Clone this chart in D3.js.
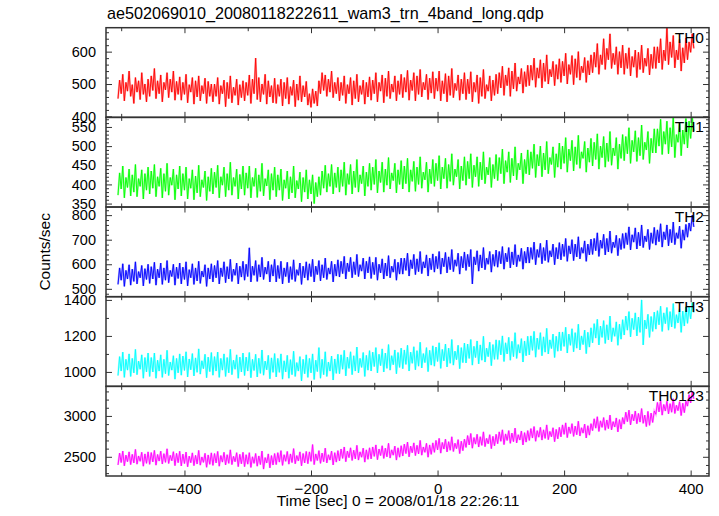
<!DOCTYPE html>
<html><head><meta charset="utf-8">
<script src="https://cdn.jsdelivr.net/npm/d3@7"></script>
<style>
body{margin:0;background:#fff}
svg{display:block}
text{font-family:"Liberation Sans",Arial,Helvetica,sans-serif;fill:#000}
</style></head>
<body><svg id="chart" width="719" height="516"></svg>
<script>
// ---------- data ----------
const chartTitle = "ae502069010_20080118222611_wam3_trn_4band_long.qdp";
const xLabel = "Time [sec] 0 = 2008/01/18 22:26:11";
const yLabel = "Counts/sec";
const panelNames = ["TH0", "TH1", "TH2", "TH3", "TH0123"];
const binStart = -505;   // time of first bin (s)
const binStep = 2.5;     // bin width (s)
const xMajorTicks = [-400, -200, 0, 200, 400];
const xMinorTicks = [-500, -300, -100, 100, 300];
const xDomain = [-524, 429];

const th0 = [
455,512,470,530,448,505,478,540,462,498,440,520,475,510,452,535,468,500,445,515,
462,525,480,548,455,510,470,528,445,505,482,535,458,515,475,540,450,508,468,522,
450,505,468,530,442,498,475,520,438,510,460,525,448,495,470,518,440,508,462,500,
445,500,462,520,438,495,470,512,430,505,455,525,442,490,465,515,435,498,458,510,
448,505,465,528,440,515,470,580,452,520,445,500,468,530,438,510,460,495,442,518,
440,498,462,515,432,505,455,520,438,492,465,512,430,500,450,525,445,495,460,508,
435,470,428,485,440,478,432,510,470,535,480,528,462,515,475,540,458,505,470,520,
448,505,465,525,440,498,470,520,435,510,455,530,445,495,468,512,438,505,460,522,
450,512,470,535,445,505,478,528,442,518,462,540,455,500,475,525,448,510,468,530,
458,520,475,542,450,512,480,535,448,525,468,545,460,505,482,530,452,518,472,538,
455,518,478,540,448,510,470,532,445,525,465,548,458,502,480,528,450,515,470,535,
452,515,470,538,445,505,475,528,440,520,462,545,455,498,478,525,448,512,465,530,
470,535,488,555,465,528,495,550,462,540,485,565,478,522,500,548,472,538,492,558,
495,558,512,580,490,550,518,575,488,565,508,590,500,545,522,570,495,560,515,578,
505,570,525,595,500,560,530,588,498,578,520,600,512,555,535,582,505,572,528,590,
535,598,552,625,530,590,560,640,545,610,575,655,548,595,560,615,530,600,550,620,
530,595,548,612,525,585,552,605,520,598,545,620,535,580,555,610,528,592,548,615,
548,615,565,640,545,605,572,675,560,630,582,650,550,605,575,638,540,612,565,642,
575,630,598,655,610];

const th1 = [
372,430,388,448,365,418,392,440,370,425,380,452,368,415,395,438,362,428,385,445,
375,435,390,452,368,420,395,442,365,428,382,455,372,418,398,440,360,425,388,448,
370,428,385,445,362,415,390,438,360,422,378,450,368,412,392,435,358,420,382,442,
375,432,392,450,365,420,398,445,368,428,385,458,372,418,395,440,362,426,388,448,
372,430,390,448,365,418,395,442,366,425,382,455,370,415,396,438,360,428,385,445,
368,425,385,440,358,412,390,435,362,420,378,448,365,410,388,432,355,418,380,438,
362,412,375,425,350,405,368,420,372,435,390,450,380,428,395,452,375,430,392,445,
380,438,395,458,372,428,400,452,375,435,392,465,380,425,402,448,370,432,395,455,
385,445,400,465,378,435,405,458,380,440,398,470,388,430,410,455,378,438,400,462,
388,448,402,468,380,438,408,460,382,445,400,472,390,432,412,458,380,440,402,465,
395,455,410,475,388,445,415,468,390,452,408,480,398,440,420,465,388,448,410,472,
398,460,415,480,392,450,420,472,395,458,412,485,402,445,425,470,392,452,415,478,
410,470,428,492,402,462,432,485,405,468,422,498,412,455,438,482,402,465,428,490,
425,485,442,505,418,478,448,500,420,482,438,512,428,470,452,498,418,480,445,508,
440,500,455,522,432,492,462,515,435,498,452,528,442,485,468,512,432,495,458,520,
448,510,465,532,440,500,470,525,445,508,460,538,450,495,475,522,440,505,468,530,
462,525,480,548,455,515,485,540,460,522,475,555,465,510,490,538,455,520,482,545,
482,545,500,570,478,538,505,565,480,548,498,575,470,530,510,562,475,542,505,572,
495,565,520,575,540];

const th2 = [
518,585,535,602,510,575,540,598,515,580,530,610,520,570,545,595,512,582,538,600,
522,590,540,608,515,580,545,605,518,585,535,615,525,575,550,600,515,588,542,605,
520,588,538,610,512,578,545,602,518,585,532,612,522,572,548,598,510,585,540,602,
528,595,545,615,520,585,550,610,525,590,540,620,530,580,555,605,520,592,548,612,
535,600,550,667,528,592,555,615,530,598,548,628,538,588,560,612,528,598,552,620,
528,595,542,612,520,585,550,608,525,590,538,618,530,578,555,605,518,592,545,610,
535,602,550,620,528,592,558,615,532,598,545,625,538,585,560,612,528,600,552,618,
548,612,562,632,540,605,570,628,545,610,558,640,550,598,572,625,540,612,565,630,
542,608,558,628,535,600,565,622,540,605,552,635,545,592,568,620,535,608,560,625,
560,625,575,645,552,618,582,640,558,622,570,652,562,610,585,638,552,625,578,642,
568,632,582,652,560,625,590,648,565,630,578,660,570,618,592,645,560,632,585,650,
575,640,590,660,520,630,598,655,572,638,585,668,578,625,600,652,568,640,592,658,
588,652,602,672,580,645,610,668,585,650,598,680,590,638,612,665,580,652,605,670,
605,668,620,690,598,660,628,685,602,668,615,698,608,655,630,682,598,668,622,688,
618,682,632,705,612,675,642,700,615,682,630,712,622,668,645,695,612,682,638,702,
640,705,655,728,632,698,665,722,638,705,650,735,645,690,668,718,635,705,660,725,
665,728,680,752,658,720,690,748,662,730,675,760,668,715,692,742,660,728,685,750,
678,740,692,765,670,732,700,760,675,742,688,772,680,728,705,755,665,740,698,762,
710,768,735,800,752];

const th3 = [
980,1085,1005,1110,970,1070,1010,1100,975,1075,995,1125,985,1060,1015,1095,965,1080,1000,1105,
975,1080,1000,1105,965,1065,1005,1095,970,1070,990,1120,980,1055,1010,1090,960,1075,995,1100,
982,1088,1008,1112,972,1072,1012,1102,978,1078,998,1128,988,1062,1018,1098,968,1082,1002,1108,
982,1085,1005,1110,970,1075,1010,1100,975,1080,995,1125,985,1065,1015,1095,965,1082,1000,1105,
980,1082,1005,1108,968,1070,1008,1098,972,1076,992,1122,982,1060,1012,1092,962,1078,998,1102,
972,1075,998,1100,960,1062,1000,1092,965,1068,985,1115,975,1052,1005,1085,950,1070,990,1095,
970,1075,995,1100,958,1065,1002,1135,965,1070,985,1112,975,1055,1005,1088,955,1072,992,1098,
990,1095,1015,1120,978,1082,1020,1112,985,1090,1005,1138,995,1075,1025,1108,975,1092,1010,1118,
1005,1110,1030,1135,995,1098,1035,1128,1000,1105,1020,1152,1010,1090,1040,1122,990,1108,1025,1132,
1018,1122,1042,1148,1005,1110,1048,1140,1012,1118,1032,1165,1022,1102,1052,1135,1002,1120,1038,1145,
1032,1138,1058,1162,1020,1125,1062,1155,1028,1132,1048,1180,1038,1115,1068,1148,1018,1135,1052,1160,
1050,1155,1075,1180,1038,1142,1080,1172,1045,1150,1065,1198,1055,1132,1085,1165,1035,1152,1070,1178,
1070,1175,1095,1200,1058,1162,1100,1192,1065,1170,1085,1218,1075,1152,1105,1185,1055,1172,1090,1198,
1095,1200,1120,1225,1082,1188,1125,1218,1090,1195,1110,1242,1100,1178,1130,1210,1080,1198,1115,1222,
1118,1222,1142,1248,1105,1210,1148,1240,1112,1218,1132,1265,1122,1200,1152,1232,1102,1220,1138,1245,
1162,1268,1188,1292,1150,1255,1192,1285,1158,1262,1178,1310,1168,1245,1198,1278,1148,1265,1182,1290,
1205,1310,1232,1335,1195,1298,1235,1328,1200,1305,1220,1400,1150,1288,1240,1320,1192,1308,1225,1332,
1238,1340,1262,1365,1225,1328,1268,1358,1232,1335,1250,1380,1242,1318,1272,1350,1220,1338,1255,1362,
1270,1360,1295,1385,1330];

const th0123 = [
2400,2545,2430,2570,2390,2520,2440,2560,2405,2530,2425,2590,2410,2510,2445,2555,2385,2535,2420,2560,
2408,2552,2438,2578,2398,2528,2448,2568,2412,2538,2432,2598,2418,2518,2452,2562,2392,2542,2428,2568,
2388,2532,2418,2558,2378,2508,2428,2548,2392,2518,2412,2578,2398,2498,2432,2542,2372,2522,2408,2548,
2395,2540,2425,2565,2385,2515,2435,2555,2400,2525,2420,2585,2405,2505,2440,2550,2380,2530,2415,2555,
2380,2525,2410,2550,2370,2500,2420,2540,2385,2510,2405,2570,2350,2490,2425,2535,2365,2515,2400,2540,
2405,2550,2435,2575,2395,2525,2445,2565,2410,2535,2430,2600,2415,2515,2450,2560,2390,2540,2425,2565,
2415,2560,2445,2650,2405,2535,2455,2575,2420,2545,2440,2605,2425,2525,2460,2570,2400,2550,2435,2575,
2450,2595,2480,2620,2440,2570,2490,2610,2455,2580,2475,2640,2460,2560,2495,2605,2435,2585,2470,2610,
2475,2620,2505,2645,2465,2595,2515,2635,2480,2605,2500,2665,2485,2585,2520,2630,2460,2610,2495,2635,
2510,2655,2540,2680,2500,2630,2550,2670,2515,2640,2535,2700,2520,2620,2555,2665,2495,2645,2530,2670,
2555,2700,2585,2725,2545,2675,2595,2715,2560,2685,2580,2745,2565,2665,2600,2710,2540,2690,2575,2715,
2615,2760,2645,2785,2605,2735,2655,2775,2620,2745,2640,2805,2625,2725,2660,2770,2600,2750,2635,2775,
2660,2805,2690,2830,2650,2780,2700,2820,2665,2790,2685,2850,2670,2770,2705,2815,2645,2795,2680,2820,
2700,2845,2730,2870,2690,2820,2740,2860,2705,2830,2725,2890,2710,2810,2745,2855,2685,2835,2720,2860,
2745,2890,2775,2915,2735,2865,2785,2905,2750,2875,2770,2935,2755,2855,2790,2900,2730,2880,2765,2905,
2820,2965,2850,2990,2810,2940,2860,2980,2825,2950,2845,3010,2830,2930,2865,2975,2805,2955,2840,2980,
2900,3045,2930,3070,2890,3020,2940,3060,2905,3030,2925,3090,2910,3010,2870,3055,2885,3035,2920,3060,
3020,3165,3050,3190,3010,3140,3060,3180,3025,3150,3045,3210,3030,3130,3065,3175,3005,3155,3040,3180,
3120,3260,3160,3300,3210];

const yDomains = [[397, 674], [341, 575], [468, 833], [920, 1418], [2265, 3362]];
const yMajorTicks = [[400, 500, 600], [350, 400, 450, 500, 550], [500, 600, 700, 800], [1000, 1200, 1400], [2500, 3000]];
const yMinorSteps = [20, 10, 20, 100, 100];
const seriesColors = ["#ff0000", "#00ff00", "#0000ff", "#00ffff", "#ff00ff"];
const seriesData = [th0, th1, th2, th3, th0123];

// ---------- layout ----------
const L = 106, R = 709, T = 27.7, B = 476;
const ph = (B - T) / 5;
const svg = d3.select("#chart");
const x = d3.scaleLinear().domain(xDomain).range([L, R]);
const frameColor = "#333";

svg.append("text").attr("x", 107).attr("y", 19)
  .style("font-size", "16.2px").text(chartTitle);

seriesData.forEach((vals, i) => {
  const top = T + i * ph, bot = top + ph;
  const y = d3.scaleLinear().domain(yDomains[i]).range([bot, top]);
  const g = svg.append("g");

  g.append("clipPath").attr("id", "clip" + i)
    .append("rect").attr("x", L).attr("y", top).attr("width", R - L).attr("height", ph);

  const pts = vals.map((v, k) => [binStart + k * binStep, v]);
  const line = d3.line().x(d => x(d[0])).y(d => y(d[1]));
  g.append("path").datum(pts).attr("d", line)
    .attr("clip-path", `url(#clip${i})`)
    .attr("fill", "none").attr("stroke", seriesColors[i])
    .attr("stroke-opacity", 0.35).attr("stroke-width", 2);
  g.append("path").datum(pts).attr("d", line)
    .attr("clip-path", `url(#clip${i})`)
    .attr("fill", "none").attr("stroke", seriesColors[i])
    .attr("stroke-width", 0.9);

  const [d0, d1] = yDomains[i];
  const minors = d3.range(Math.ceil(d0 / yMinorSteps[i]) * yMinorSteps[i], d1 + 0.001, yMinorSteps[i])
    .filter(v => !yMajorTicks[i].includes(v));
  const axStyle = sel => { sel.select(".domain").remove(); sel.selectAll("line").attr("stroke", frameColor).attr("stroke-width", 1); };

  g.append("g").attr("transform", `translate(${L},0)`)
    .call(d3.axisLeft(y).tickValues(minors).tickSize(-3).tickFormat(""))
    .call(axStyle);
  g.append("g").attr("transform", `translate(${L},0)`)
    .call(d3.axisLeft(y).tickValues(yMajorTicks[i]).tickSize(-6).tickPadding(10).tickFormat(d3.format("d")))
    .call(axStyle)
    .call(s => s.selectAll("text").style("font-size", "14.5px").attr("fill", "#000"));
  g.append("g").attr("transform", `translate(${R},0)`)
    .call(d3.axisRight(y).tickValues(minors).tickSize(-3).tickFormat(""))
    .call(axStyle);
  g.append("g").attr("transform", `translate(${R},0)`)
    .call(d3.axisRight(y).tickValues(yMajorTicks[i]).tickSize(-6).tickFormat(""))
    .call(axStyle);

  g.append("g").attr("transform", `translate(0,${top})`)
    .call(d3.axisTop(x).tickValues(xMinorTicks).tickSize(-3.5).tickFormat("")).call(axStyle);
  g.append("g").attr("transform", `translate(0,${top})`)
    .call(d3.axisTop(x).tickValues(xMajorTicks).tickSize(-5.5).tickFormat("")).call(axStyle);
  g.append("g").attr("transform", `translate(0,${bot})`)
    .call(d3.axisBottom(x).tickValues(xMinorTicks).tickSize(-3.5).tickFormat("")).call(axStyle);
  const bx = g.append("g").attr("transform", `translate(0,${bot})`)
    .call(d3.axisBottom(x).tickValues(xMajorTicks).tickSize(-5.5).tickPadding(7)
      .tickFormat(i === 4 ? d3.format("d") : ""))
    .call(axStyle);
  bx.selectAll("text").style("font-size", "15px").attr("fill", "#000");

  g.append("rect").attr("x", L).attr("y", top).attr("width", R - L).attr("height", ph)
    .attr("fill", "none").attr("stroke", frameColor).attr("stroke-width", 1.5);

  g.append("text").attr("x", R - 5).attr("y", top + 15).attr("text-anchor", "end")
    .style("font-size", "15.5px").text(panelNames[i]);
});

svg.append("text").attr("x", L + 292).attr("y", 506).attr("text-anchor", "middle")
  .style("font-size", "15.5px").text(xLabel);
svg.append("text").attr("transform", `translate(50,${(T + B) / 2}) rotate(-90)`)
  .attr("text-anchor", "middle").style("font-size", "15.5px").text(yLabel);
</script></body></html>
